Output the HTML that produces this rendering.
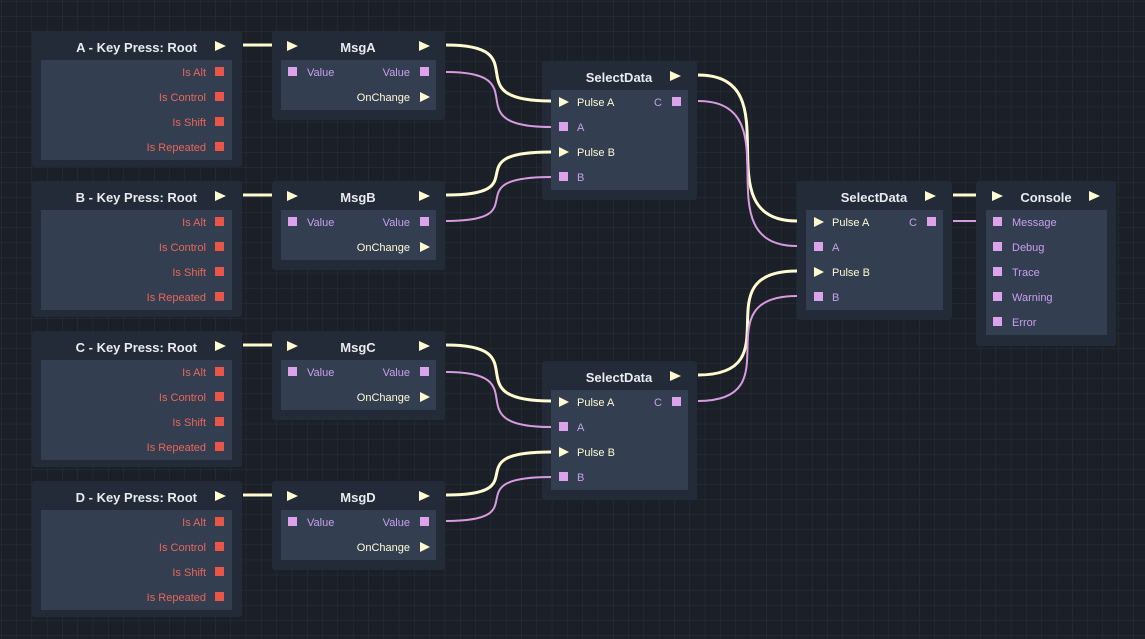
<!DOCTYPE html>
<html><head><meta charset="utf-8"><style>
html,body{margin:0;padding:0;background:#1b1f27;}
svg{display:block;font-family:"Liberation Sans",sans-serif;}
.t{font-weight:bold;font-size:13px;fill:#e8ebf0;}
.r{font-size:11px;fill:#e8675a;}
.p{font-size:11px;fill:#c7a0ec;}
.y{font-size:11px;fill:#fffbd6;}
.n{fill:#232b38;}
.i{fill:#333e51;}
.tri{fill:#fffbd0;}
.sq{fill:#e8564a;}
.pk{fill:#dca2ea;}
.wy{fill:none;stroke:#fffbd0;stroke-width:3;}
.wp{fill:none;stroke:#d79be0;stroke-width:2;}
</style></head><body>
<svg width="1145" height="639" viewBox="0 0 1145 639" xmlns="http://www.w3.org/2000/svg">
<defs>
<pattern id="g" x="1" y="1" width="15.3" height="15.1" patternUnits="userSpaceOnUse">
<path d="M0 0H15.3M0 0V15.1" stroke="#2b303a" stroke-width="1" fill="none"/>
</pattern>
<g id="kp">
<rect x="32" y="0" width="210" height="136" rx="3" class="n"/>
<rect x="41" y="29" width="191" height="100" class="i"/>
<polygon points="215,10 226,15 215,20" class="tri"/>
<text x="206" y="45" text-anchor="end" class="r">Is Alt</text>
<text x="206" y="70" text-anchor="end" class="r">Is Control</text>
<text x="206" y="95" text-anchor="end" class="r">Is Shift</text>
<text x="206" y="120" text-anchor="end" class="r">Is Repeated</text>
<rect x="215" y="36" width="9" height="9" class="sq"/>
<rect x="215" y="61" width="9" height="9" class="sq"/>
<rect x="215" y="86" width="9" height="9" class="sq"/>
<rect x="215" y="111" width="9" height="9" class="sq"/>
</g>
<g id="msg">
<rect x="272" y="0" width="173" height="89" rx="3" class="n"/>
<rect x="281" y="29" width="155" height="50" class="i"/>
<polygon points="287,10 298,15 287,20" class="tri"/>
<polygon points="419,10 430,15 419,20" class="tri"/>
<rect x="288" y="36" width="9" height="9" class="pk"/>
<text x="307" y="45" class="p">Value</text>
<text x="410" y="45" text-anchor="end" class="p">Value</text>
<rect x="420" y="36" width="9" height="9" class="pk"/>
<text x="410" y="70" text-anchor="end" class="y">OnChange</text>
<polygon points="420,61 430,66 420,71" class="tri"/>
</g>
<g id="sd">
<rect x="0" y="0" width="155" height="139" rx="3" class="n"/>
<rect x="9" y="29" width="137" height="100" class="i"/>
<polygon points="128,10 139,15 128,20" class="tri"/>
<polygon points="17,36 27,41 17,46" class="tri"/>
<text x="35" y="45" class="y">Pulse A</text>
<text x="120" y="45" text-anchor="end" class="p">C</text>
<rect x="130" y="36" width="9" height="9" class="pk"/>
<rect x="17" y="61" width="9" height="9" class="pk"/>
<text x="35" y="70" class="p">A</text>
<polygon points="17,86 27,91 17,96" class="tri"/>
<text x="35" y="95" class="y">Pulse B</text>
<rect x="17" y="111" width="9" height="9" class="pk"/>
<text x="35" y="120" class="p">B</text>
</g>
</defs>
<rect width="1145" height="639" fill="url(#g)"/>

<g transform="translate(0,31)"><use href="#kp"/><text x="197" y="21" text-anchor="end" class="t">A - Key Press: Root</text></g>
<g transform="translate(0,181)"><use href="#kp"/><text x="197" y="21" text-anchor="end" class="t">B - Key Press: Root</text></g>
<g transform="translate(0,331)"><use href="#kp"/><text x="197" y="21" text-anchor="end" class="t">C - Key Press: Root</text></g>
<g transform="translate(0,481)"><use href="#kp"/><text x="197" y="21" text-anchor="end" class="t">D - Key Press: Root</text></g>

<g transform="translate(0,31)"><use href="#msg"/><text x="358" y="21" text-anchor="middle" class="t">MsgA</text></g>
<g transform="translate(0,181)"><use href="#msg"/><text x="358" y="21" text-anchor="middle" class="t">MsgB</text></g>
<g transform="translate(0,331)"><use href="#msg"/><text x="358" y="21" text-anchor="middle" class="t">MsgC</text></g>
<g transform="translate(0,481)"><use href="#msg"/><text x="358" y="21" text-anchor="middle" class="t">MsgD</text></g>

<g transform="translate(542,61)"><use href="#sd"/><text x="77" y="21" text-anchor="middle" class="t">SelectData</text></g>
<g transform="translate(542,361)"><use href="#sd"/><text x="77" y="21" text-anchor="middle" class="t">SelectData</text></g>
<g transform="translate(797,181)"><use href="#sd"/><text x="77" y="21" text-anchor="middle" class="t">SelectData</text></g>

<rect x="976" y="181" width="140" height="165" rx="3" class="n"/>
<rect x="986" y="210" width="121" height="125" class="i"/>
<polygon points="992,191 1003,196 992,201" class="tri"/>
<polygon points="1089,191 1100,196 1089,201" class="tri"/>
<text x="1046" y="202" text-anchor="middle" class="t">Console</text>
<rect x="993" y="217" width="9" height="9" class="pk"/><text x="1012" y="226" class="p">Message</text>
<rect x="993" y="242" width="9" height="9" class="pk"/><text x="1012" y="251" class="p">Debug</text>
<rect x="993" y="267" width="9" height="9" class="pk"/><text x="1012" y="276" class="p">Trace</text>
<rect x="993" y="292" width="9" height="9" class="pk"/><text x="1012" y="301" class="p">Warning</text>
<rect x="993" y="317" width="9" height="9" class="pk"/><text x="1012" y="326" class="p">Error</text>

<path class="wy" d="M243 45H272M243 195H272M243 345H272M243 495H272"/>
<path class="wy" d="M446 45C540 45 452 101 551 101"/>
<path class="wp" d="M446 72C540 72 452 127 551 127"/>
<path class="wy" d="M446 195C540 195 452 152 551 152"/>
<path class="wp" d="M446 221C540 221 452 177 551 177"/>
<path class="wy" d="M446 345C540 345 452 401 551 401"/>
<path class="wp" d="M446 372C540 372 452 427 551 427"/>
<path class="wy" d="M446 495C540 495 452 452 551 452"/>
<path class="wp" d="M446 521C540 521 452 477 551 477"/>
<path class="wy" d="M698 75C795 75 700 221 797 221"/>
<path class="wp" d="M698 101C795 101 700 246 797 246"/>
<path class="wy" d="M698 375C795 375 700 271 797 271"/>
<path class="wp" d="M698 401C795 401 700 296 797 296"/>
<path class="wy" d="M953 195H976"/>
<path class="wp" d="M953 221H976"/>
</svg>
</body></html>
